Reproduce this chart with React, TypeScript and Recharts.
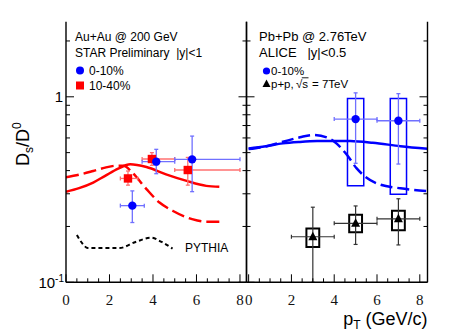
import React from 'react';
import { ComposedChart, Line, Scatter, XAxis, YAxis, ErrorBar, ReferenceArea } from 'recharts';

// ---- left panel: STAR Au+Au @ 200 GeV ----
const starCentralPt = [3.05, 4.15, 5.8];
const starCentralRatio = [0.259, 0.447, 0.46];
const starCentralLow = [0.21, 0.385, 0.308];
const starCentralHigh = [0.311, 0.521, 0.614];
const starCentralPtLow = [2.5, 3.5, 5.0];
const starCentralPtHigh = [3.6, 5.0, 8.0];

const starMidPt = [2.85, 3.95, 5.6];
const starMidRatio = [0.363, 0.462, 0.403];
const starMidLow = [0.334, 0.427, 0.334];
const starMidHigh = [0.398, 0.5, 0.471];
const starMidPtLow = [2.5, 3.5, 5.0];
const starMidPtHigh = [3.3, 5.0, 8.0];

const auSolidPt = [0, 0.6, 1.25, 1.8, 2.4, 2.95, 3.7, 4.6, 5.55, 6.45, 7.05];
const auSolidRatio = [0.308, 0.322, 0.345, 0.375, 0.41, 0.433, 0.418, 0.382, 0.352, 0.331, 0.327];
const auDashPt = [0, 0.6, 1.25, 1.8, 2.3, 2.65, 3.05, 3.7, 4.3, 4.9, 5.8, 6.45, 7.05];
const auDashRatio = [0.368, 0.38, 0.398, 0.415, 0.425, 0.425, 0.39, 0.318, 0.269, 0.243, 0.219, 0.212, 0.212];
const pythiaPt = [0.5, 0.75, 1.0, 2.45, 3.2, 3.9, 4.4, 4.9];
const pythiaRatio = [0.18, 0.162, 0.153, 0.153, 0.165, 0.174, 0.165, 0.152];

// ---- right panel: ALICE Pb+Pb @ 2.76 TeV ----
const aliceCentralPt = [5, 7];
const aliceCentralRatio = [0.758, 0.743];
const aliceCentralLow = [0.438, 0.434];
const aliceCentralHigh = [1.05, 1.04];
const aliceCentralPtLow = [4, 6];
const aliceCentralPtHigh = [6, 8];
const aliceCentralSysLow = [0.331, 0.298];
const aliceCentralSysHigh = [0.98, 0.98];

const ppPt = [3, 5, 7];
const ppRatio = [0.176, 0.208, 0.22];
const ppLow = [0.1, 0.16, 0.159];
const ppHigh = [0.254, 0.258, 0.282];
const ppPtLow = [2, 4, 6];
const ppPtHigh = [4, 6, 8];
const ppSysLow = [0.155, 0.186, 0.191];
const ppSysHigh = [0.195, 0.231, 0.243];

const pbSolidPt = [0, 0.8, 1.6, 2.4, 3.2, 4.0, 4.75, 5.8, 7.1, 8.36];
const pbSolidRatio = [0.527, 0.542, 0.561, 0.571, 0.577, 0.578, 0.577, 0.565, 0.542, 0.525];
const pbDashPt = [0, 0.8, 1.6, 2.4, 3.0, 3.65, 4.1, 4.6, 5.05, 5.45, 6.0, 7.1, 8.36];
const pbDashRatio = [0.523, 0.54, 0.572, 0.605, 0.622, 0.604, 0.561, 0.485, 0.411, 0.371, 0.341, 0.321, 0.31];

// ---- axes ----
const xTicks = [0, 0.5, 1, 1.5, 2, 2.5, 3, 3.5, 4, 4.5, 5, 5.5, 6, 6.5, 7, 7.5, 8];
const yTicks = [0.1, 0.2, 0.3, 0.4, 0.5, 0.6, 0.7, 0.8, 0.9, 1, 2];
const yDomain = [0.1, 2.54];

const curve = (xs: number[], ys: number[]) => xs.map((x, i) => ({ x, y: ys[i] }));
const points = (xs: number[], ys: number[], lo: number[], hi: number[], xlo: number[], xhi: number[]) =>
  xs.map((x, i) => ({ x, y: ys[i], ey: [ys[i] - lo[i], hi[i] - ys[i]], ex: [x - xlo[i], xhi[i] - x] }));

const serif = '"Liberation Serif", "Times New Roman", serif';
const sans = '"Liberation Sans", Arial, Helvetica, sans-serif';

const isMajorY = (v: number) => v === 0.1 || v === 1;

const YTickLeft = (labels: boolean) => (props: any) => {
  const { x, y, payload } = props;
  const v = payload.value;
  const major = isMajorY(v);
  return (
    <g>
      <line x1={x} x2={x + (major ? 8 : 4)} y1={y} y2={y} stroke="#000" strokeWidth={1} />
      {labels && v === 1 && (
        <text x={x - 3} y={y + 5.5} textAnchor="end" fontFamily={sans} fontSize={15} fill="#000">1</text>
      )}
      {labels && v === 0.1 && (
        <text x={x - 2} y={y + 5.5} textAnchor="end" fontFamily={sans} fontSize={15} fill="#000">
          10<tspan dy={-6} fontSize={10}>-1</tspan>
        </text>
      )}
    </g>
  );
};

const YTickRight = (props: any) => {
  const { x, y, payload } = props;
  const major = isMajorY(payload.value);
  return <line x1={x} x2={x - (major ? 8 : 4)} y1={y} y2={y} stroke="#000" strokeWidth={1} />;
};

const XTickBottom = (props: any) => {
  const { x, y, payload } = props;
  const v = payload.value;
  const major = v % 2 === 0;
  return (
    <g>
      <line x1={x} x2={x} y1={y} y2={y - (major ? 8 : 4)} stroke="#000" strokeWidth={1} />
      {major && (
        <text x={x} y={y + 22.5} textAnchor="middle" fontFamily={serif} fontSize={15} fill="#111">{v}</text>
      )}
    </g>
  );
};

const XTickTop = (props: any) => {
  const { x, y, payload } = props;
  const major = payload.value % 2 === 0;
  return <line x1={x} x2={x} y1={y} y2={y + (major ? 8 : 4)} stroke="#000" strokeWidth={1} />;
};

const circleShape = (color: string) => (p: any) => <circle cx={p.cx} cy={p.cy} r={4.2} fill={color} />;
const squareShape = (color: string) => (p: any) => <rect x={p.cx - 4.2} y={p.cy - 4.2} width={8.4} height={8.4} fill={color} />;
const triangleShape = (p: any) => (
  <polygon points={`${p.cx},${p.cy - 5} ${p.cx - 4.5},${p.cy + 3.5} ${p.cx + 4.5},${p.cy + 3.5}`} fill="#000" />
);

const frame = { stroke: '#000', strokeWidth: 1.4 };

function Axes({ xMin, xMax, leftWidth, rightWidth, leftLabels }: any) {
  return [
    <XAxis key="xb" type="number" dataKey="x" domain={[xMin, xMax]} ticks={xTicks} interval={0}
      allowDataOverflow height={52.7} tickSize={0} tickMargin={0} tickLine={false}
      axisLine={frame} tick={XTickBottom} />,
    <XAxis key="xt" xAxisId="top" orientation="top" type="number" dataKey="x" domain={[xMin, xMax]}
      ticks={xTicks} interval={0} allowDataOverflow height={0} tickSize={0} tickMargin={0}
      tickLine={false} axisLine={frame} tick={XTickTop} />,
    <YAxis key="yl" type="number" dataKey="y" scale="log" domain={yDomain} ticks={yTicks} interval={0}
      allowDataOverflow width={leftWidth} tickSize={0} tickMargin={0} tickLine={false}
      axisLine={frame} tick={YTickLeft(leftLabels)} />,
    <YAxis key="yr" yAxisId="r" orientation="right" type="number" dataKey="y" scale="log" domain={yDomain}
      ticks={yTicks} interval={0} allowDataOverflow width={rightWidth} tickSize={0} tickMargin={0}
      tickLine={false} axisLine={frame} tick={YTickRight} />,
  ];
}

const starCentral = points(starCentralPt, starCentralRatio, starCentralLow, starCentralHigh, starCentralPtLow, starCentralPtHigh);
const starMid = points(starMidPt, starMidRatio, starMidLow, starMidHigh, starMidPtLow, starMidPtHigh);
const aliceCentral = points(aliceCentralPt, aliceCentralRatio, aliceCentralLow, aliceCentralHigh, aliceCentralPtLow, aliceCentralPtHigh);
const pp = points(ppPt, ppRatio, ppLow, ppHigh, ppPtLow, ppPtHigh);

function LeftPanel() {
  return (
    <ComposedChart width={250} height={335} margin={{ top: 21.7, right: 0, bottom: 0, left: 0 }}>
      {Axes({ xMin: 0, xMax: 8.3, leftWidth: 66, rightWidth: 3.5, leftLabels: true })}
      <Line data={curve(auSolidPt, auSolidRatio)} dataKey="y" type="monotone" stroke="#ff0000"
        strokeWidth={2.5} dot={false} isAnimationActive={false} />
      <Line data={curve(auDashPt, auDashRatio)} dataKey="y" type="monotone" stroke="#ff0000"
        strokeWidth={2.5} strokeDasharray="13 5" dot={false} isAnimationActive={false} />
      <Line data={curve(pythiaPt, pythiaRatio)} dataKey="y" type="monotone" stroke="#000"
        strokeWidth={2} strokeDasharray="4 3" dot={false} isAnimationActive={false} />
      <Scatter data={starMid} shape={squareShape('#ff0000')} isAnimationActive={false}>
        <ErrorBar dataKey="ey" direction="y" width={2} stroke="#ff7070" strokeWidth={1.3} />
        <ErrorBar dataKey="ex" direction="x" width={2} stroke="#ff7070" strokeWidth={1.3} />
      </Scatter>
      <Scatter data={starCentral} shape={circleShape('#0000ff')} isAnimationActive={false}>
        <ErrorBar dataKey="ey" direction="y" width={2} stroke="#7070ff" strokeWidth={1.3} />
        <ErrorBar dataKey="ex" direction="x" width={2} stroke="#7070ff" strokeWidth={1.3} />
      </Scatter>
    </ComposedChart>
  );
}

const aliceBoxHalf = 0.38;
const ppBoxHalf = 0.3;

function RightPanel() {
  return (
    <ComposedChart width={234} height={335} margin={{ top: 21.7, right: 0, bottom: 0, left: 0 }}>
      {Axes({ xMin: -0.1, xMax: 8.36, leftWidth: 6.5, rightWidth: 46.5, leftLabels: false })}
      <Line data={curve(pbSolidPt, pbSolidRatio)} dataKey="y" type="monotone" stroke="#0000ff"
        strokeWidth={2.5} dot={false} isAnimationActive={false} />
      <Line data={curve(pbDashPt, pbDashRatio)} dataKey="y" type="monotone" stroke="#0000ff"
        strokeWidth={2.5} strokeDasharray="12 5" dot={false} isAnimationActive={false} />
      {aliceCentralPt.map((x, i) => (
        <ReferenceArea key={'ab' + i} x1={x - aliceBoxHalf} x2={x + aliceBoxHalf}
          y1={aliceCentralSysLow[i]} y2={aliceCentralSysHigh[i]} fill="none" fillOpacity={0}
          stroke="#0000ff" strokeWidth={1.5} ifOverflow="visible" />
      ))}
      {ppPt.map((x, i) => (
        <ReferenceArea key={'pb' + i} x1={x - ppBoxHalf} x2={x + ppBoxHalf}
          y1={ppSysLow[i]} y2={ppSysHigh[i]} fill="none" fillOpacity={0}
          stroke="#000" strokeWidth={2} ifOverflow="visible" />
      ))}
      <Scatter data={aliceCentral} shape={circleShape('#0000ff')} isAnimationActive={false}>
        <ErrorBar dataKey="ey" direction="y" width={2} stroke="#7070ff" strokeWidth={1.3} />
        <ErrorBar dataKey="ex" direction="x" width={2} stroke="#7070ff" strokeWidth={1.3} />
      </Scatter>
      <Scatter data={pp} shape={triangleShape} isAnimationActive={false}>
        <ErrorBar dataKey="ey" direction="y" width={2} stroke="#333" strokeWidth={1.2} />
        <ErrorBar dataKey="ex" direction="x" width={2} stroke="#333" strokeWidth={1.2} />
      </Scatter>
    </ComposedChart>
  );
}

function Annotations() {
  return (
    <svg width={474} height={335} style={{ position: 'absolute', left: 0, top: 0, pointerEvents: 'none' }}>
      <g fontFamily={sans} fill="#000">
        <text x={75} y={41} fontSize={12}>Au+Au @ 200 GeV</text>
        <text x={75} y={57} fontSize={12}>STAR Preliminary{'\u00a0\u00a0'}|y|&lt;1</text>
        <circle cx={80} cy={70.5} r={4} fill="#0000ff" />
        <text x={89} y={74.8} fontSize={12}>0-10%</text>
        <rect x={76} y={81.5} width={8} height={8} fill="#ff0000" />
        <text x={89} y={89.8} fontSize={12}>10-40%</text>
        <text x={185} y={252} fontSize={12}>PYTHIA</text>

        <text x={259} y={41} fontSize={13}>Pb+Pb @ 2.76TeV</text>
        <text x={259} y={56.5} fontSize={13}>ALICE{'\u00a0\u00a0\u00a0'}|y|&lt;0.5</text>
        <circle cx={266.5} cy={71} r={3.6} fill="#0000ff" />
        <text x={271} y={75} fontSize={11.5}>0-10%</text>
        <polygon points="266.5,79.5 262.5,87 270.5,87" fill="#000" />
        <text x={271} y={87.5} fontSize={11.5}>p+p,</text>
        <text x={296} y={87.5} fontSize={11.5}>{'\u221a'}</text>
        <text x={302.3} y={87.5} fontSize={11.5}>s</text>
        <line x1={301.8} x2={308.5} y1={77.8} y2={77.8} stroke="#000" strokeWidth={0.9} />
        <text x={312} y={87.5} fontSize={11.5}>= 7TeV</text>

        <text transform="rotate(-90 29 166)" x={29} y={166} fontSize={18}>
          D<tspan fontSize={12} dy={4}>s</tspan><tspan dy={-4}>/D</tspan><tspan fontSize={12} dy={-8}>0</tspan>
        </text>
        <text x={427.5} y={325} textAnchor="end" fontSize={18}>
          p<tspan fontSize={12} dy={4}>T</tspan><tspan dy={-4}> (GeV/c)</tspan>
        </text>
      </g>
    </svg>
  );
}

export default function App() {
  return (
    <div style={{ position: 'absolute', left: 0, top: 0, width: 474, height: 335, background: '#fff', overflow: 'hidden' }}>
      <div style={{ position: 'absolute', left: 0, top: 0 }}>
        <LeftPanel />
      </div>
      <div style={{ position: 'absolute', left: 240, top: 0 }}>
        <RightPanel />
      </div>
      <Annotations />
    </div>
  );
}
